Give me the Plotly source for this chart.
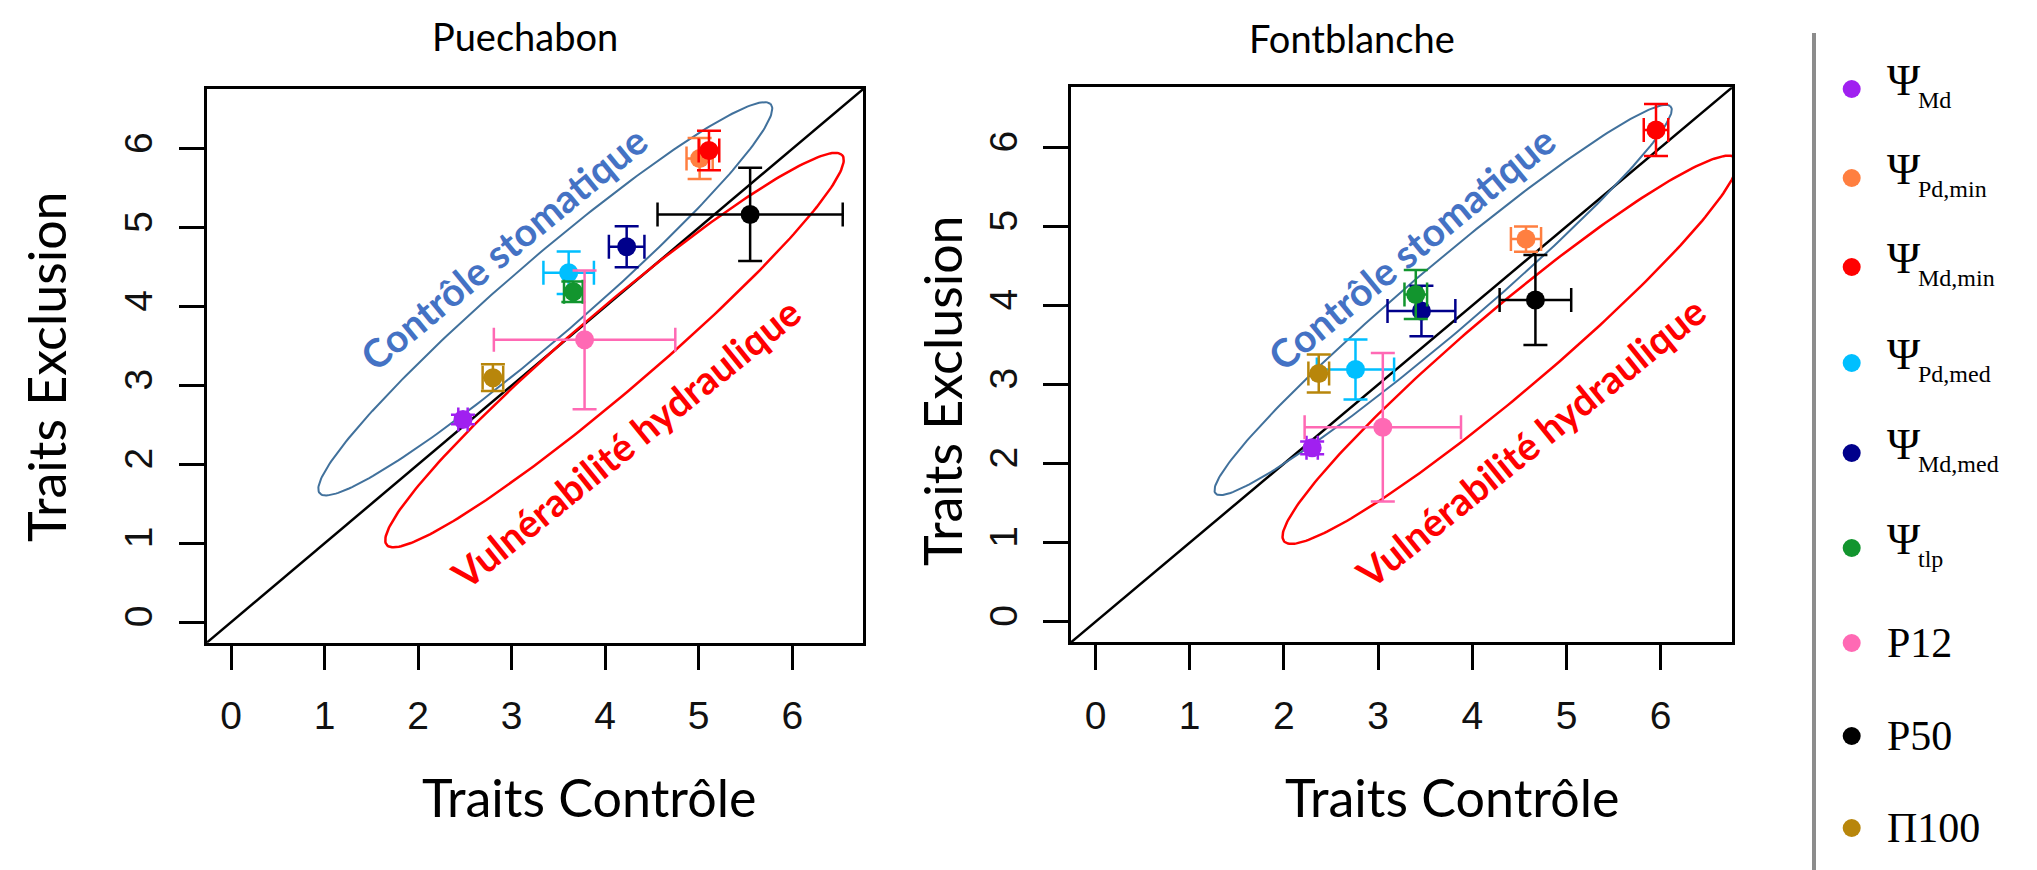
import numpy as np
import plotly.graph_objects as go

W, H = 2037, 870

# ---- data -------------------------------------------------------------
traits = ["ΨMd", "ΨPd,min", "ΨMd,min", "ΨPd,med", "ΨMd,med", "Ψtlp", "P12", "P50", "Π100"]
colors = ["#A020F0", "#FF7F40", "#FF0000", "#00BFFF", "#00008B",
          "#12952E", "#FF69B4", "#000000", "#B8860B"]

# Puechabon: control-trait score (x) vs exclusion-trait score (y) with errors
pue_x = [2.48, 5.01, 5.11, 3.61, 4.23, 3.66, 3.78, 5.55, 2.80]
pue_y = [2.57, 5.88, 5.98, 4.43, 4.76, 4.19, 3.58, 5.17, 3.10]
pue_xerr = [0.05, 0.14, 0.11, 0.27, 0.19, 0.10, 0.97, 0.99, 0.11]
pue_yerr = [0.06, 0.26, 0.25, 0.27, 0.26, 0.13, 0.88, 0.59, 0.17]

# Fontblanche
fon_x = [2.30, 4.57, 5.95, 2.76, 3.46, 3.40, 3.05, 4.67, 2.37]
fon_y = [2.20, 4.84, 6.22, 3.19, 3.93, 4.14, 2.46, 4.07, 3.14]
fon_xerr = [0.06, 0.16, 0.13, 0.41, 0.36, 0.12, 0.83, 0.38, 0.11]
fon_yerr = [0.08, 0.16, 0.33, 0.38, 0.32, 0.31, 0.94, 0.57, 0.24]

tick_values = [0, 1, 2, 3, 4, 5, 6]
axis_range = [-0.26, 6.76]

# ellipses: (cx, cy, semi-major, semi-minor, angle in degrees)
pue_ell_ctrl = (3.36, 4.10, 3.45, 0.45, 45.8)
pue_ell_vuln = (4.10, 3.45, 3.47, 0.47, 45.6)
fon_ell_ctrl = (3.69, 4.07, 3.44, 0.39, 45.5)
fon_ell_vuln = (4.40, 3.44, 3.41, 0.48, 45.5)

BLUE_LINE = "#41719C"
RED_LINE = "#FF0000"
BLUE_TEXT = "#4472C4"
RED_TEXT = "#FF0000"


def ellipse(cx, cy, a, b, ang):
    t = np.linspace(0, 2 * np.pi, 241)
    th = np.deg2rad(ang)
    ex = cx + a * np.cos(t) * np.cos(th) - b * np.sin(t) * np.sin(th)
    ey = cy + a * np.cos(t) * np.sin(th) + b * np.sin(t) * np.cos(th)
    return ex, ey


fig = go.Figure()


def add_panel(xs, ys, xe, ye, ell_c, ell_v, xa, ya):
    # 1:1 reference line
    fig.add_trace(go.Scatter(x=axis_range, y=axis_range, mode="lines",
                             line=dict(color="black", width=2.5),
                             xaxis=xa, yaxis=ya, showlegend=False, hoverinfo="skip"))
    for ell, col, wd in ((ell_c, BLUE_LINE, 2), (ell_v, RED_LINE, 2.5)):
        ex, ey = ellipse(*ell)
        fig.add_trace(go.Scatter(x=ex, y=ey, mode="lines",
                                 line=dict(color=col, width=wd),
                                 xaxis=xa, yaxis=ya, showlegend=False, hoverinfo="skip"))
    for i, name in enumerate(traits):
        fig.add_trace(go.Scatter(
            x=[xs[i]], y=[ys[i]], mode="markers", name=name,
            marker=dict(color=colors[i], size=19),
            error_x=dict(type="data", array=[xe[i]], color=colors[i], thickness=2.5, width=12),
            error_y=dict(type="data", array=[ye[i]], color=colors[i], thickness=2.5, width=12),
            xaxis=xa, yaxis=ya, showlegend=False))


add_panel(pue_x, pue_y, pue_xerr, pue_yerr, pue_ell_ctrl, pue_ell_vuln, "x", "y")
add_panel(fon_x, fon_y, fon_xerr, fon_yerr, fon_ell_ctrl, fon_ell_vuln, "x2", "y2")

# legend markers drawn on a transparent pixel-space overlay axis
leg_x = 1851.7
leg_y = [89, 178, 267, 363, 453, 548, 643, 736, 828]
fig.add_trace(go.Scatter(x=[leg_x] * len(traits), y=leg_y, mode="markers",
                         marker=dict(color=colors, size=18),
                         xaxis="x3", yaxis="y3", showlegend=False, hoverinfo="skip"))


def px_x(v):
    return v / W


def px_y(v):
    return 1 - v / H


axis_common = dict(range=axis_range, tickvals=tick_values, showgrid=False, zeroline=False,
                   showline=True, linecolor="black", linewidth=2.5, mirror=True,
                   ticks="outside", ticklen=25, tickwidth=2.5, tickcolor="black",
                   tickfont=dict(family="Liberation Sans", size=39, color="#111111"))

fig.update_layout(
    width=W, height=H, margin=dict(l=0, r=0, t=0, b=0, autoexpand=False),
    paper_bgcolor="white", plot_bgcolor="rgba(0,0,0,0)", showlegend=False,
    xaxis=dict(domain=[px_x(206.7), px_x(863.3)], anchor="y", ticklabelstandoff=12, **axis_common),
    yaxis=dict(domain=[px_y(642.7), px_y(89)], anchor="x", tickangle=-90, ticklabelstandoff=11, **axis_common),
    xaxis2=dict(domain=[px_x(1071), px_x(1732.3)], anchor="y2", ticklabelstandoff=12, **axis_common),
    yaxis2=dict(domain=[px_y(642.3), px_y(87.3)], anchor="x2", tickangle=-90, ticklabelstandoff=11, **axis_common),
    xaxis3=dict(domain=[0, 1], range=[0, W], visible=False, anchor="y3"),
    yaxis3=dict(domain=[0, 1], range=[H, 0], visible=False, anchor="x3"),
)


def label(text, x, y, size, angle=0, color="black", weight="normal", family="Lato"):
    return dict(text=text, x=px_x(x), y=px_y(y), xref="paper", yref="paper",
                xanchor="center", yanchor="middle", textangle=angle, showarrow=False,
                font=dict(family=family, size=size, color=color, weight=weight))


ann = []
# panel titles
ann.append(label("Puechabon", 525, 36, 38))
ann.append(label("Fontblanche", 1352, 38, 38))
# axis titles
for cx in (589, 1452):
    ann.append(label("Traits Contrôle", cx, 797, 52))
for cx, cy in ((46, 367), (942, 391)):
    ann.append(label("Traits Exclusion", cx, cy, 52, angle=-90))

# zone labels (data coordinates)
for xr, yr, cpos, vpos in (("x", "y", (2.91, 4.75), (4.22, 2.27)),
                          ("x2", "y2", (3.35, 4.73), (4.62, 2.27))):
    ann.append(dict(text="Contrôle stomatique", x=cpos[0], y=cpos[1], xref=xr, yref=yr,
                    xanchor="center", yanchor="middle", textangle=-39.5, showarrow=False,
                    font=dict(family="Lato", size=39, color=BLUE_TEXT, weight="bold")))
    ann.append(dict(text="Vulnérabilité hydraulique", x=vpos[0], y=vpos[1], xref=xr, yref=yr,
                    xanchor="center", yanchor="middle", textangle=-39, showarrow=False,
                    font=dict(family="Lato", size=39, color=RED_TEXT, weight="bold")))

# legend labels
subs = ["Md", "Pd,min", "Md,min", "Pd,med", "Md,med", "tlp", None, None, None]
plain = [None] * 6 + ["P12", "P50", "Π100"]
serif = "Liberation Serif"
for i, yy in enumerate(leg_y):
    if subs[i] is not None:
        ann.append(dict(text="Ψ", x=px_x(1885), y=px_y(yy - 9.2), xref="paper", yref="paper",
                        xanchor="left", yanchor="middle", showarrow=False,
                        font=dict(family=serif, size=45, color="black")))
        ann.append(dict(text=subs[i], x=px_x(1916), y=px_y(yy + 10.9), xref="paper", yref="paper",
                        xanchor="left", yanchor="middle", showarrow=False,
                        font=dict(family=serif, size=24, color="black")))
    else:
        ann.append(dict(text=plain[i], x=px_x(1885), y=px_y(yy), xref="paper", yref="paper",
                        xanchor="left", yanchor="middle", showarrow=False,
                        font=dict(family=serif, size=42, color="black")))

fig.update_layout(annotations=ann)

# legend separator
fig.add_shape(type="line", xref="paper", yref="paper",
              x0=px_x(1814), x1=px_x(1814), y0=px_y(33), y1=0,
              line=dict(color="#8C8C8C", width=4))

fig.write_html("out.html")
